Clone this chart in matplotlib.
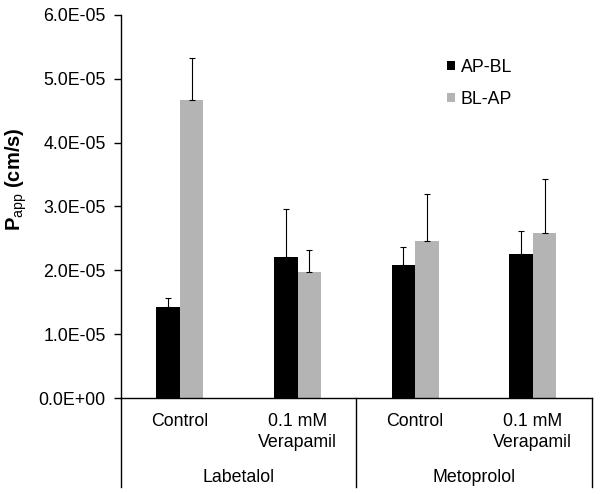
import matplotlib
matplotlib.use("Agg")
import matplotlib.pyplot as plt
import matplotlib.transforms as mtransforms
from matplotlib.ticker import FuncFormatter, MultipleLocator
import numpy as np

plt.rcParams['font.family'] = ['Liberation Sans', 'DejaVu Sans']
plt.rcParams['mathtext.fontset'] = 'custom'
plt.rcParams['mathtext.rm'] = 'Liberation Sans'
plt.rcParams['mathtext.bf'] = 'Liberation Sans:bold'

conditions = ['Control', '0.1 mM\nVerapamil', 'Control', '0.1 mM\nVerapamil']
drugs = ['Labetalol', 'Metoprolol']
ap_bl = [1.42e-05, 2.21e-05, 2.08e-05, 2.25e-05]
ap_bl_err = [0.15e-05, 0.75e-05, 0.29e-05, 0.37e-05]
bl_ap = [4.67e-05, 1.98e-05, 2.46e-05, 2.59e-05]
bl_ap_err = [0.65e-05, 0.34e-05, 0.73e-05, 0.84e-05]

fig = plt.figure(figsize=(6.02, 4.94), dpi=100)
ax = fig.add_axes([0.201, 0.194, 0.782, 0.776])

x = np.arange(len(conditions)) + 0.5
width = 0.2
err_kw = dict(lw=0.8, capsize=2.5, capthick=0.8, ecolor='black')
ax.bar(x - width / 2, ap_bl, width, color='black', label='AP-BL',
       yerr=[np.zeros(4), ap_bl_err], error_kw=err_kw)
ax.bar(x + width / 2, bl_ap, width, color='#b4b4b4', label='BL-AP',
       yerr=[np.zeros(4), bl_ap_err], error_kw=err_kw)

fs = 12.8
ax.set_xlim(0, 4)
ax.set_ylim(0, 6e-05)
ax.yaxis.set_major_locator(MultipleLocator(1e-05))
ax.yaxis.set_major_formatter(FuncFormatter(lambda v, p: f"{v:.1E}"))
ax.tick_params(axis='y', direction='out', length=5, width=1, labelsize=fs, pad=6)
ax.set_xticks(x)
ax.set_xticklabels(conditions, fontsize=fs, linespacing=1.3)
ax.tick_params(axis='x', length=0, pad=11)

for s in ['top', 'right']:
    ax.spines[s].set_visible(False)
ax.spines['bottom'].set_linewidth(1)
ax.spines['left'].set_linewidth(1)

# category dividers below the axis
trans = mtransforms.blended_transform_factory(ax.transData, ax.transAxes)
for xd in [0, 2, 4]:
    ax.plot([xd, xd], [0, -0.232], color='black', lw=1, transform=trans,
            clip_on=False)
for i, d in enumerate(drugs):
    ax.text(2 * i + 1, -0.206, d, transform=trans, ha='center', va='center',
            fontsize=fs)

ax.set_ylabel(r'$\mathbf{P}_{\mathrm{app}}$ (cm/s)', fontsize=14.5,
              fontweight='bold', va='center')
ax.yaxis.set_label_coords(-0.222, 0.57)

ax.legend(loc='upper left', bbox_to_anchor=(0.658, 0.927), frameon=False,
          fontsize=fs, handlelength=0.45, handleheight=0.45,
          handletextpad=0.35, labelspacing=0.85)

plt.savefig("out.png", dpi=100)
